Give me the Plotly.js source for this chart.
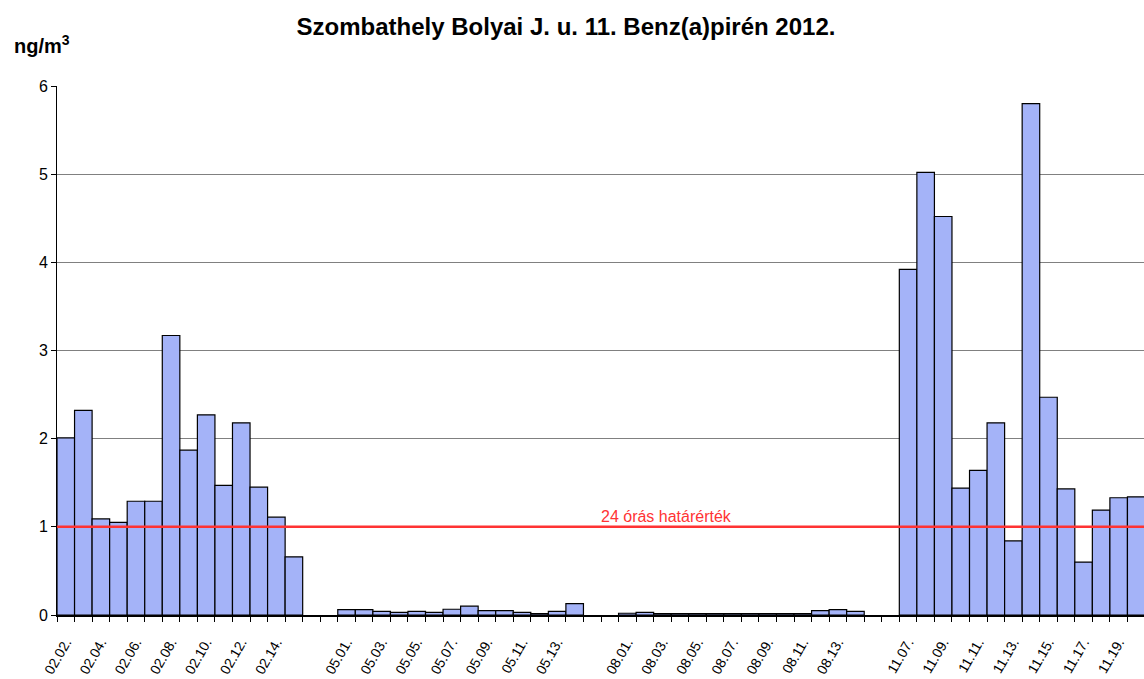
<!DOCTYPE html>
<html>
<head>
<meta charset="utf-8">
<script src="https://cdn.plot.ly/plotly-3.0.1.min.js"></script>
<style>
html,body{margin:0;padding:0;overflow:hidden;background:#fff;}
#chart{width:1148px;height:679px;}
</style>
</head>
<body>
<div id="chart"></div>
<script>
// Measurement dates per group (month.day.)
const febDates = ["02.02.","02.03.","02.04.","02.05.","02.06.","02.07.","02.08.","02.09.","02.10.","02.11.","02.12.","02.13.","02.14.","02.15."];
const febValues = [2.01,2.32,1.09,1.05,1.29,1.29,3.17,1.87,2.27,1.47,2.18,1.45,1.11,0.66];

const mayDates = ["05.01.","05.02.","05.03.","05.04.","05.05.","05.06.","05.07.","05.08.","05.09.","05.10.","05.11.","05.12.","05.13.","05.14."];
const mayValues = [0.06,0.06,0.04,0.03,0.04,0.03,0.065,0.10,0.05,0.05,0.03,0.015,0.04,0.13];

const augDates = ["08.01.","08.02.","08.03.","08.04.","08.05.","08.06.","08.07.","08.08.","08.09.","08.10.","08.11.","08.12.","08.13.","08.14."];
const augValues = [0.02,0.03,0.015,0.015,0.015,0.015,0.015,0.015,0.015,0.015,0.015,0.05,0.06,0.04];

const novDates = ["11.07.","11.08.","11.09.","11.10.","11.11.","11.12.","11.13.","11.14.","11.15.","11.16.","11.17.","11.18.","11.19.","11.20."];
const novValues = [3.92,5.02,4.52,1.44,1.64,2.18,0.84,5.80,2.47,1.43,0.60,1.19,1.33,1.34];

const limitValue = 1;
const limitLabel = "24 órás határérték";
const emptySlotsBetweenGroups = 2;

// Build the category sequence with empty slots between groups
const groups = [[febDates,febValues],[mayDates,mayValues],[augDates,augValues],[novDates,novValues]];
const xs = [], ys = [], labels = [];
let idx = 0;
groups.forEach((g, gi) => {
  g[0].forEach((d, i) => { xs.push(idx); ys.push(g[1][i]); labels.push(d); idx++; });
  if (gi < groups.length - 1) {
    for (let k = 0; k < emptySlotsBetweenGroups; k++) { labels.push(""); idx++; }
  }
});
const nSlots = idx;
const tickvals = [], ticktext = [];
for (let i = 0; i < nSlots; i += 2) { tickvals.push(i); ticktext.push(labels[i]); }

const trace = {
  type: "bar",
  x: xs,
  y: ys,
  width: 1,
  marker: { color: "#A4B3F8", line: { color: "#000000", width: 1.2 } },
  hoverinfo: "x+y"
};

const layout = {
  width: 1148,
  height: 679,
  margin: { l: 57, r: 3, t: 86, b: 64 },
  paper_bgcolor: "#ffffff",
  plot_bgcolor: "#ffffff",
  font: { family: "Liberation Sans, Arial, sans-serif", size: 16, color: "#000" },
  showlegend: false,
  bargap: 0,
  title: {
    text: "<b>Szombathely Bolyai J. u. 11. Benz(a)pirén 2012.</b>",
    font: { size: 24, color: "#000", family: "Liberation Sans, Arial, sans-serif" },
    xref: "container", x: 566 / 1148, xanchor: "center",
    yref: "container", y: 1 - 27 / 679, yanchor: "middle"
  },
  xaxis: {
    type: "linear",
    range: [-0.5, nSlots - 0.5],
    tickmode: "array",
    tickvals: tickvals,
    ticktext: ticktext,
    tickangle: -60,
    ticks: "",
    ticklabelstandoff: 12,
    tickfont: { size: 14 },
    showgrid: false,
    zeroline: false,
    showline: true,
    linecolor: "#000",
    linewidth: 1.5,
    automargin: false,
    minor: { tickmode: "linear", tick0: -0.5, dtick: 1, ticks: "outside", ticklen: 5, tickcolor: "#000", tickwidth: 1, showgrid: false },
    fixedrange: true
  },
  yaxis: {
    range: [0, 6],
    tickmode: "linear",
    tick0: 0,
    dtick: 1,
    ticks: "outside",
    ticklen: 5,
    tickcolor: "#000",
    showgrid: true,
    gridcolor: "#808080",
    gridwidth: 1,
    zeroline: false,
    showline: true,
    linecolor: "#000",
    linewidth: 1,
    tickfont: { size: 16 },
    automargin: false,
    fixedrange: true
  },
  shapes: [{
    type: "line", xref: "paper", x0: 0, x1: 1, yref: "y", y0: limitValue, y1: limitValue,
    line: { color: "#FF3333", width: 2.5 }, layer: "above"
  }],
  annotations: [
    {
      text: limitLabel, xref: "paper", x: (666 - 57) / 1088, yref: "y", y: limitValue,
      yanchor: "bottom", xanchor: "center", showarrow: false, yshift: 0,
      font: { size: 16, color: "#FF3333" }
    },
    {
      text: "<b>ng/m<sup>3</sup></b>", xref: "paper", x: 0, xanchor: "left", xshift: -45,
      yref: "paper", y: 1, yanchor: "bottom", yshift: 27, showarrow: false,
      font: { size: 20, color: "#000" }
    }
  ]
};

Plotly.newPlot("chart", [trace], layout, { displayModeBar: false, staticPlot: true });
</script>
</body>
</html>
